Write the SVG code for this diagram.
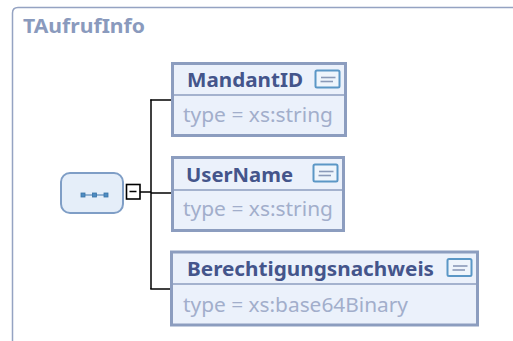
<svg xmlns="http://www.w3.org/2000/svg" width="513" height="341" viewBox="0 0 513 341">
<defs>
<style>
.frame{fill:none;stroke:#95a3c2;stroke-width:1.5}
.title{font-family:"Noto Sans","Open Sans",sans-serif;font-weight:bold;font-size:20px;fill:#8a9abd}
.box{fill:#ebf1fb;stroke:#8c9dbf;stroke-width:3}
.div{stroke:#8c9dbf;stroke-width:1.5}
.name{font-family:"Noto Sans","Open Sans",sans-serif;font-weight:bold;font-size:19.5px;fill:#44558b}
.type{font-family:"Noto Sans","Open Sans",sans-serif;font-size:20.5px;fill:#a2aecb}
.icon{fill:#eef5fc;stroke:#5b97c6;stroke-width:2}
.iline{stroke:#8a9ab8;stroke-width:1.6}
.conn{fill:none;stroke:#000;stroke-width:1.5}
</style>
<g id="doc-icon">
<rect class="icon" x="0" y="0" width="24" height="17" rx="1.5"/>
<line class="iline" x1="5.5" y1="7" x2="20" y2="7"/>
<line class="iline" x1="5" y1="11" x2="17.5" y2="11"/>
</g>
</defs>
<rect x="0" y="0" width="513" height="341" fill="#ffffff"/>
<g id="TAufrufInfo">
<path class="frame" d="M12.5,345 L12.5,13 Q12.5,7.5 18,7.5 L520,7.5"/>
<text class="title" x="23" y="33" textLength="122" lengthAdjust="spacingAndGlyphs">TAufrufInfo</text>
</g>
<g id="connectors">
<line class="conn" x1="140" y1="192" x2="151" y2="192"/>
<line class="conn" x1="151" y1="99.5" x2="151" y2="289"/>
<line class="conn" x1="150.25" y1="100" x2="172" y2="100"/>
<line class="conn" x1="151" y1="193" x2="172" y2="193"/>
<line class="conn" x1="150.25" y1="289" x2="171" y2="289"/>
</g>
<g id="sequence">
<rect x="61" y="173" width="62" height="40" rx="9" fill="#e5eef9" stroke="#7f9ec6" stroke-width="2"/>
<line x1="83" y1="195" x2="106" y2="195" stroke="#5d8cba" stroke-width="1.2"/>
<rect x="81" y="193" width="4" height="4" fill="#4e8cc2" stroke="#3a74a8" stroke-width="0.8"/>
<rect x="92.5" y="193" width="4" height="4" fill="#4e8cc2" stroke="#3a74a8" stroke-width="0.8"/>
<rect x="104" y="193" width="4" height="4" fill="#4e8cc2" stroke="#3a74a8" stroke-width="0.8"/>
<rect x="126.5" y="184.5" width="13.5" height="14.5" fill="#ffffff" stroke="#000" stroke-width="1.6"/>
<line x1="129.5" y1="191.5" x2="136.5" y2="191.5" stroke="#000" stroke-width="1.5"/>
</g>
<g id="MandantID">
<rect class="box" x="172.5" y="63.5" width="173" height="72"/>
<line class="div" x1="174" y1="95" x2="344" y2="95"/>
<text class="name" x="187" y="86.5" textLength="116" lengthAdjust="spacingAndGlyphs">MandantID</text>
<use href="#doc-icon" x="315.5" y="70.5"/>
<text class="type" x="183" y="121.5" textLength="150" lengthAdjust="spacingAndGlyphs">type = xs:string</text>
</g>
<g id="UserName">
<rect class="box" x="172.5" y="157.5" width="171" height="73"/>
<line class="div" x1="174" y1="190" x2="342" y2="190"/>
<text class="name" x="186" y="181.5" textLength="107" lengthAdjust="spacingAndGlyphs">UserName</text>
<use href="#doc-icon" x="313.5" y="164.5"/>
<text class="type" x="183" y="216" textLength="150" lengthAdjust="spacingAndGlyphs">type = xs:string</text>
</g>
<g id="Berechtigungsnachweis">
<rect class="box" x="171.5" y="252" width="306" height="73"/>
<line class="div" x1="173" y1="284" x2="476" y2="284"/>
<text class="name" x="187" y="276" textLength="247" lengthAdjust="spacingAndGlyphs">Berechtigungsnachweis</text>
<use href="#doc-icon" x="447.5" y="259"/>
<text class="type" x="183" y="311.5" textLength="225" lengthAdjust="spacingAndGlyphs">type = xs:base64Binary</text>
</g>
</svg>
